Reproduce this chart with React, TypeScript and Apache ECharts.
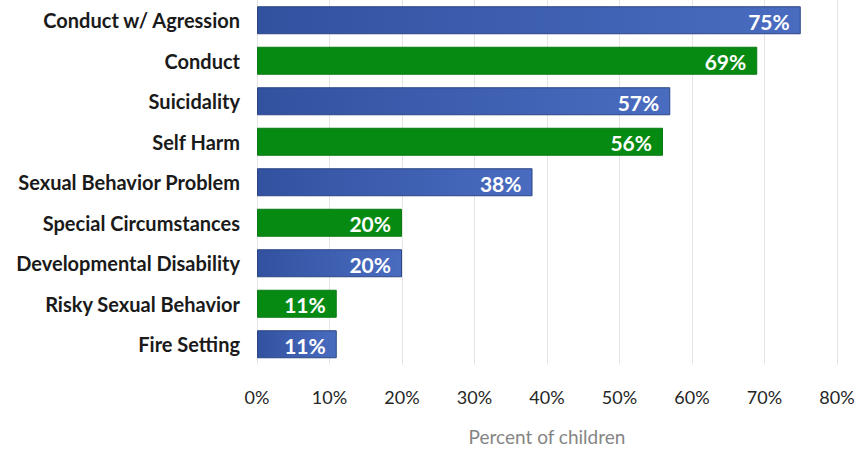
import React, { useEffect, useRef } from "react";
import * as echarts from "echarts";

const categories = [
  "Conduct w/ Agression",
  "Conduct",
  "Suicidality",
  "Self Harm",
  "Sexual Behavior Problem",
  "Special Circumstances",
  "Developmental Disability",
  "Risky Sexual Behavior",
  "Fire Setting",
];
const percentValues = [75, 69, 57, 56, 38, 20, 20, 11, 11];
const tickMax = 80;
const tickStep = 10;
const axisTitle = "Percent of children";

const BLUE = new echarts.graphic.LinearGradient(0, 0, 1, 0, [
  { offset: 0, color: "#3252a0" },
  { offset: 1, color: "#4a6cc0" },
]);
const GREEN = "#068a12";

export default function App() {
  const ref = useRef<HTMLDivElement>(null);
  useEffect(() => {
    if (!ref.current) return;
    const chart = echarts.init(ref.current, null, { renderer: "svg" });
    chart.setOption({
      animation: false,
      backgroundColor: "#ffffff",
      grid: {
        left: 257,
        right: 20,
        top: 0,
        bottom: 84.5,
        containLabel: false,
        outerBoundsMode: "none",
      },
      xAxis: {
        type: "value",
        min: 0,
        max: tickMax,
        interval: tickStep,
        name: axisTitle,
        nameLocation: "middle",
        nameGap: 62,
        nameTextStyle: { color: "#858585", fontSize: 19, fontFamily: "Lato" },
        axisLine: { show: false },
        axisTick: { show: false },
        axisLabel: {
          formatter: "{value}%",
          color: "#262626",
          fontSize: 18,
          fontFamily: "Lato",
          margin: 23,
        },
        splitLine: { show: true, lineStyle: { color: "#e4e4e4", width: 1 } },
      },
      yAxis: {
        type: "category",
        data: categories,
        inverse: true,
        axisLine: { show: false },
        axisTick: { show: false },
        axisLabel: {
          color: "#1a1a1a",
          fontSize: 20,
          fontWeight: "bold",
          fontFamily: "Lato",
          margin: 17,
        },
      },
      series: [
        {
          type: "bar",
          barWidth: 28,
          data: percentValues.map((v, i) => ({
            value: v,
            itemStyle: {
              color: i % 2 === 0 ? BLUE : GREEN,
              borderColor: i % 2 === 0 ? "#2a4585" : "#0b7a14",
              borderWidth: 1,
            },
          })),
          label: {
            show: true,
            position: "insideRight",
            formatter: "{c}%",
            color: "#ffffff",
            fontSize: 21,
            fontWeight: "bold",
            fontFamily: "Lato",
            offset: [-6, 1],
          },
        },
      ],
    });
    return () => chart.dispose();
  }, []);
  return (
    <div
      ref={ref}
      style={{ position: "fixed", left: 0, top: 0, width: 857, height: 449 }}
    />
  );
}
